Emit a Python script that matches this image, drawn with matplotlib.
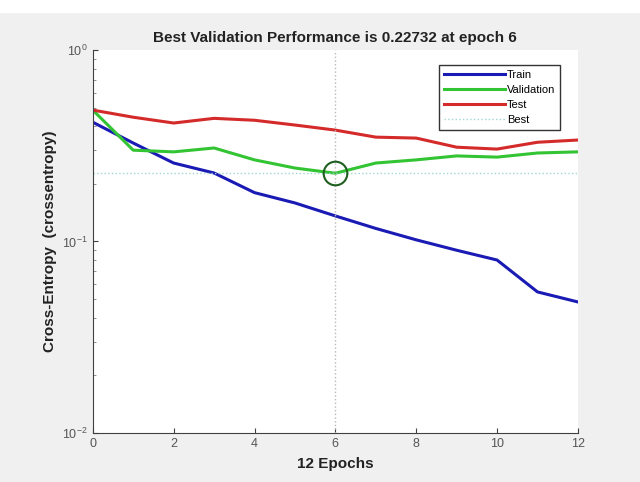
import numpy as np
import matplotlib
matplotlib.use('Agg')
import matplotlib.pyplot as plt

plt.rcParams['font.family'] = ['Liberation Sans', 'DejaVu Sans']

# Data
epochs = list(range(13))
train = [0.42, 0.327, 0.257, 0.228, 0.18, 0.159, 0.136, 0.117, 0.102, 0.090, 0.080, 0.0545, 0.0483]
validation = [0.486, 0.30, 0.294, 0.308, 0.267, 0.242, 0.22732, 0.257, 0.267, 0.28, 0.276, 0.29, 0.294]
test = [0.486, 0.446, 0.416, 0.44, 0.43, 0.406, 0.382, 0.351, 0.347, 0.311, 0.304, 0.33, 0.339]
best_epoch = 6
best_perf = 0.22732

fig = plt.figure(figsize=(6.4, 4.82), dpi=100, facecolor='#f0f0f0')
# white strip at the top like the screenshot
fig.patches.append(plt.Rectangle((0, 0.975), 1, 0.025, transform=fig.transFigure,
                                 color='white', zorder=0))
ax = fig.add_axes([0.145, 0.102, 0.758, 0.794])

ax.plot(epochs, train, color='#1a1ab4', lw=2.2, label='Train')
ax.plot(epochs, validation, color='#33c433', lw=2.2, label='Validation')
ax.plot(epochs, test, color='#d42a2a', lw=2.2, label='Test')
ax.axhline(best_perf, color='#9fd6d6', lw=1, ls=':', label='Best')
ax.axvline(best_epoch, color='#b8b8b8', lw=1, ls=':')
ax.plot([best_epoch], [best_perf], 'o', ms=17, mfc='none', mec='#1f5f1f', mew=1.5)

ax.set_yscale('log')
ax.set_ylim(0.01, 1)
ax.set_xlim(0, 12)
ax.set_xticks(range(0, 13, 2))
ax.spines['top'].set_visible(False)
ax.spines['right'].set_visible(False)
ax.spines['left'].set_color('#404040')
ax.spines['bottom'].set_color('#404040')
ax.tick_params(direction='in', labelsize=9, colors='#404040', labelcolor='#555555')
ax.tick_params(which='minor', direction='in', colors='#808080')

ax.set_title('Best Validation Performance is 0.22732 at epoch 6',
             fontsize=11, fontweight='bold', color='#222222', pad=6)
ax.set_xlabel('12 Epochs', fontsize=11, fontweight='bold', color='#222222', labelpad=5)
ax.set_ylabel('Cross-Entropy  (crossentropy)', fontsize=11, fontweight='bold',
              color='#222222', labelpad=4)

leg = ax.legend(loc='upper right', bbox_to_anchor=(0.975, 0.975), fontsize=8,
                fancybox=False, edgecolor='#333333', framealpha=1,
                handlelength=5.5, handletextpad=0.2, borderpad=0.45, labelspacing=0.45)
leg.get_frame().set_linewidth(1)

fig.savefig('out.png', dpi=100, facecolor=fig.get_facecolor())
